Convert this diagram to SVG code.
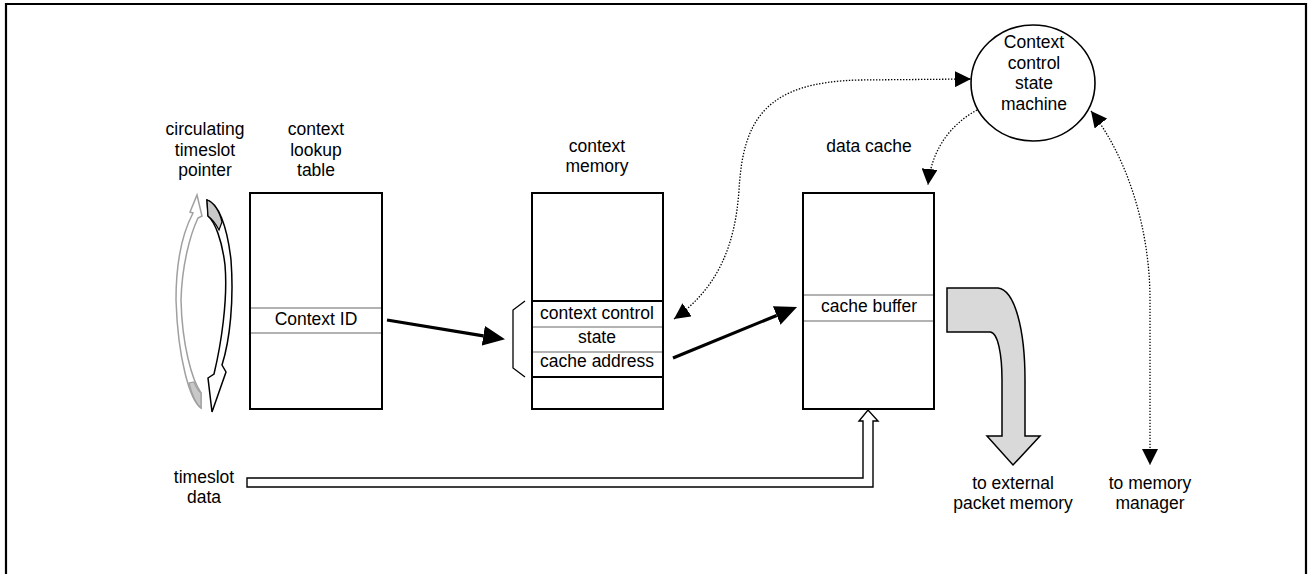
<svg xmlns="http://www.w3.org/2000/svg" width="1308" height="574" viewBox="0 0 1308 574">
<defs>
<style>
text{font-family:"Liberation Sans",Arial,Helvetica,sans-serif;font-size:17.5px;fill:#000;text-anchor:middle}
.box{fill:#fff;stroke:#000;stroke-width:2}
.row{stroke:#999;stroke-width:1.5}
.rowb{stroke:#000;stroke-width:2}
.dot{fill:none;stroke:#000;stroke-width:1.3;stroke-dasharray:1.4 1.6}
.solid{fill:none;stroke:#000;stroke-width:3.2}
</style>
<marker id="dh" markerUnits="userSpaceOnUse" markerWidth="16" markerHeight="16" viewBox="0 0 16 16" refX="16" refY="8" orient="auto-start-reverse"><path d="M0,0 L16,8 L0,16 Z" fill="#000"/></marker>
<marker id="sh" markerUnits="userSpaceOnUse" markerWidth="22" markerHeight="20" viewBox="0 0 22 20" refX="0" refY="10" orient="auto"><path d="M0,0 L22,10 L0,20 Z" fill="#000"/></marker>
</defs>
<rect width="1308" height="574" fill="#fff"/>
<g id="frame"><path d="M6,574 V4 H1306 V574" fill="none" stroke="#000" stroke-width="2.2"/></g>

<g id="pointer">
<path d="M201,408 C190,400 178,360 176,300 C176,260 183,232 193,213 L190,212 L197,195 L202,216 L198,218 C190,235 182,265 181,300 C182,345 192,380 201,393 Z" fill="#fff" stroke="#a0a0a0" stroke-width="1.5"/>
<path d="M201,408 C196,404 192,395 189,383 L194,382 C196,387 198,391 201,393 Z" fill="#c8c8c8" stroke="#a0a0a0" stroke-width="1.2"/>
<path d="M207,200 C218,203 227,225 231,260 C234,300 230,340 222,365 L226,372 L212,412 L208,378 L214,374 C221,345 228,300 225,265 C222,240 215,222 208,216 Z" fill="#fff" stroke="#000" stroke-width="1.5"/>
<path d="M207,200 C213,202 219,210 222,222 L219,230 C216,224 212,219 208,216 Z" fill="#c8c8c8" stroke="#000" stroke-width="1.2"/>
<text x="205" y="135">circulating</text>
<text x="205" y="156">timeslot</text>
<text x="205" y="176">pointer</text>
</g>

<g id="lookup-table">
<rect class="box" x="250" y="193" width="132" height="216"/>
<line class="row" x1="251" y1="308" x2="381" y2="308"/>
<line class="row" x1="251" y1="333" x2="381" y2="333"/>
<text x="316" y="324.5">Context ID</text>
<text x="316" y="135">context</text>
<text x="316" y="156">lookup</text>
<text x="316" y="176">table</text>
</g>

<g id="context-memory">
<rect class="box" x="532" y="193" width="131" height="216"/>
<line class="rowb" x1="532" y1="301" x2="663" y2="301"/>
<line class="row" x1="533" y1="327" x2="662" y2="327"/>
<line class="row" x1="533" y1="352" x2="662" y2="352"/>
<line class="rowb" x1="532" y1="377" x2="663" y2="377"/>
<text x="597" y="318.5">context control</text>
<text x="597" y="342.5">state</text>
<text x="597" y="367">cache address</text>
<path d="M525,301 L513,310 L513,368 L525,377" fill="none" stroke="#000" stroke-width="1.3"/>
<text x="597" y="152">context</text>
<text x="597" y="172">memory</text>
</g>

<g id="data-cache">
<rect class="box" x="803" y="193" width="131" height="216"/>
<line class="row" x1="804" y1="295" x2="933" y2="295"/>
<line class="row" x1="804" y1="321" x2="933" y2="321"/>
<text x="869" y="311.5">cache buffer</text>
<text x="869" y="152">data cache</text>
</g>

<g id="state-machine">
<ellipse cx="1033" cy="83" rx="62" ry="58" fill="#fff" stroke="#000" stroke-width="1.6"/>
<text x="1034" y="48">Context</text>
<text x="1034" y="68.5">control</text>
<text x="1034" y="89">state</text>
<text x="1034" y="109.5">machine</text>
</g>

<g id="external-output">
<path d="M947,288 L998,288 C1015,290 1025,330 1025,380 L1025,436 L1040,436 L1013,465 L987,436 L1002,436 L1002,380 C1002,355 998,332 990,332 L947,332 Z" fill="#d9d9d9" stroke="#000" stroke-width="1.5"/>
<text x="1013" y="489">to external</text>
<text x="1013" y="509">packet memory</text>
</g>

<g id="timeslot-data">
<path d="M247,478 L863,478 L863,421 L859,421 L868,410 L878,421 L873,421 L873,487 L247,487 Z" fill="#fff" stroke="#000" stroke-width="1.4"/>
<text x="204" y="483">timeslot</text>
<text x="204" y="502.5">data</text>
</g>

<g id="memory-manager">
<text x="1150" y="489">to memory</text>
<text x="1150" y="509">manager</text>
</g>

<g id="connectors">
<line class="solid" x1="387" y1="320" x2="483.3" y2="335.8" marker-end="url(#sh)"/>
<line class="solid" x1="673" y1="358" x2="776.7" y2="315.4" marker-end="url(#sh)"/>
<path class="dot" d="M674,319 C715,290 735,250 739,190 C743,120 765,82 860,80 L971,79" marker-start="url(#dh)" marker-end="url(#dh)"/>
<path class="dot" d="M977,110 C955,122 932,145 928,185" marker-end="url(#dh)"/>
<path class="dot" d="M1091,111 C1128,158 1150,230 1150,300 L1150,465" marker-start="url(#dh)" marker-end="url(#dh)"/>
</g>
</svg>
